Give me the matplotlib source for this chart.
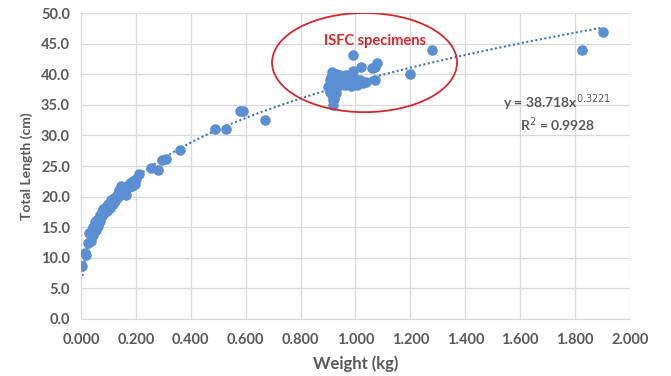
import matplotlib.pyplot as plt
import numpy as np
from matplotlib.patches import Ellipse

plt.rcParams['font.family'] = ['Lato', 'DejaVu Sans']

# weight (kg) and total length (cm)
weight = [
    0.005, 0.015, 0.020, 0.025, 0.035, 0.030, 0.040, 0.045, 0.050, 0.055,
    0.060, 0.065, 0.070, 0.075, 0.080, 0.085, 0.090, 0.100, 0.110, 0.120,
    0.130, 0.140, 0.145, 0.150, 0.160, 0.165, 0.175, 0.180, 0.190, 0.200,
    0.210, 0.255, 0.280, 0.295, 0.310, 0.360, 0.490, 0.530, 0.580, 0.590,
    0.670,
    0.045, 0.055, 0.062, 0.070, 0.078, 0.095, 0.105, 0.115, 0.125, 0.135,
    0.150, 0.170, 0.185, 0.195, 0.038, 0.050,
    0.990, 1.280, 1.200, 1.080, 1.070, 1.060, 1.020, 0.990, 0.915, 0.940,
    0.955, 1.070, 1.016, 1.027, 1.005, 0.980, 0.960, 0.936, 0.907, 0.900,
    0.907, 0.915, 0.918, 0.918, 0.930, 0.925,
    0.905, 0.912, 0.925, 0.945, 0.965, 0.985, 1.000, 1.040, 0.920, 0.935,
    0.950, 0.970, 0.910, 0.928,
    1.825, 1.900,
]
length = [
    8.7, 10.8, 10.5, 12.5, 12.8, 14.0, 14.5, 15.0, 15.5, 16.0,
    16.2, 16.5, 17.0, 17.5, 18.0, 17.3, 18.3, 18.8, 19.5, 19.8,
    20.3, 21.0, 21.8, 20.5, 21.2, 20.2, 21.5, 22.2, 22.5, 22.8,
    23.7, 24.6, 24.3, 26.0, 26.1, 27.6, 31.0, 31.0, 34.0, 34.0,
    32.5,
    13.8, 14.6, 15.2, 16.0, 16.8, 17.6, 18.2, 18.8, 19.2, 20.0,
    21.2, 21.8, 21.8, 22.0, 14.0, 15.8,
    43.1, 44.0, 40.0, 41.8, 41.2, 41.0, 41.2, 40.5, 40.4, 39.9,
    39.4, 39.0, 39.0, 38.5, 38.2, 38.5, 38.2, 38.5, 39.0, 37.9,
    37.1, 36.6, 35.8, 35.0, 36.9, 37.7,
    38.0, 39.5, 39.0, 38.8, 39.8, 38.0, 39.2, 38.8, 36.0, 38.0,
    38.4, 39.2, 37.5, 40.0,
    44.0, 46.9,
]

# power trendline from the chart
coef_a = 38.718
coef_b = 0.3221

x_ticks = np.arange(0, 2.001, 0.2)
y_ticks = np.arange(0, 50.1, 5)

fig = plt.figure(figsize=(6.71, 3.76), dpi=100)
ax = fig.add_axes([0.1207, 0.1516, 0.8182, 0.8138])

ax.scatter(weight, length, s=58, color='#5b8fd4', zorder=3, linewidths=0)

xs = np.linspace(min(weight), max(weight), 300)
ax.plot(xs, coef_a * xs ** coef_b, color='#3f74b8', lw=1.5,
        linestyle=(0, (1, 1.2)), zorder=2)

ell = Ellipse((1.033, 41.9), 0.674, 16.2, fill=False,
              edgecolor='#d9262b', lw=1.3, zorder=4)
ax.add_patch(ell)
ax.text(1.071, 45.4, 'ISFC specimens', color='#e0262b', fontsize=10.5,
        fontweight='bold', ha='center', va='center', zorder=5)

ax.text(1.735, 35.3, 'y = 38.718x$^{0.3221}$', color='#595959', fontsize=10,
        fontweight='bold', ha='center', va='center')
ax.text(1.735, 31.8, 'R$^{2}$ = 0.9928', color='#595959', fontsize=10,
        fontweight='bold', ha='center', va='center')

ax.set_xlim(0, 2.0)
ax.set_ylim(0, 50)
ax.set_xticks(x_ticks)
ax.set_yticks(y_ticks)
ax.set_xticklabels([f'{v:.3f}' for v in x_ticks])
ax.set_yticklabels([f'{v:.1f}' for v in y_ticks])
ax.tick_params(axis='x', length=0, labelsize=10.5, labelcolor='#595959', pad=10)
ax.tick_params(axis='y', length=0, labelsize=10.5, labelcolor='#595959', pad=8)
for lbl in ax.get_xticklabels() + ax.get_yticklabels():
    lbl.set_fontweight('bold')

ax.grid(True, color='#d9d9d9', lw=0.9)
ax.set_axisbelow(True)
for side in ['top', 'right']:
    ax.spines[side].set_visible(False)
for side in ['left', 'bottom']:
    ax.spines[side].set_color('#d9d9d9')

ax.set_xlabel('Weight (kg)', fontsize=12, fontweight='bold', color='#595959',
              labelpad=6)
ax.set_ylabel('Total Length (cm)', fontsize=10, fontweight='bold', color='#595959',
              labelpad=6)

fig.savefig('out.png', dpi=100)
